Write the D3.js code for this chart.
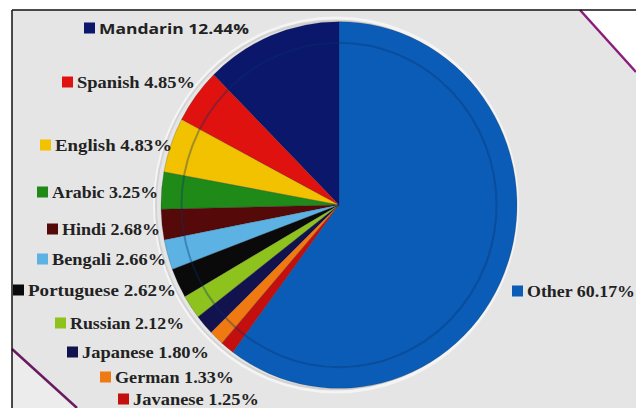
<!DOCTYPE html>
<html>
<head>
<meta charset="utf-8">
<script src="https://cdn.jsdelivr.net/npm/d3@7"></script>
<style>
  html, body { margin: 0; padding: 0; background: #ffffff; }
  svg { display: block; }
</style>
</head>
<body>
<svg id="chart" width="636" height="408"></svg>
<script>
// ---- data ----
const languages = ["Mandarin", "Spanish", "English", "Arabic", "Hindi", "Bengali",
                   "Portuguese", "Russian", "Japanese", "German", "Javanese", "Other"];
const shares = [12.44, 4.85, 4.83, 3.25, 2.68, 2.66, 2.62, 2.12, 1.80, 1.33, 1.25, 60.17];
const colors = ["#0b176a", "#e0120f", "#f2c100", "#1f8a18", "#560909", "#5cb2e3",
                "#0a0a0a", "#8ec21c", "#12124f", "#f07a12", "#c40f0f", "#0b5cb6"];

// ---- layout (label anchor: square left x, centre y, text right end) ----
const labelLayout = [
  {sx: 84,  cy: 28,  tEnd: 249, sans: true},
  {sx: 62,  cy: 82,  tEnd: 195},
  {sx: 40,  cy: 145, tEnd: 172},
  {sx: 37,  cy: 192, tEnd: 158},
  {sx: 47,  cy: 229, tEnd: 160},
  {sx: 37,  cy: 259, tEnd: 166},
  {sx: 13,  cy: 290, tEnd: 176},
  {sx: 55,  cy: 323, tEnd: 184},
  {sx: 67,  cy: 352, tEnd: 209},
  {sx: 100, cy: 377, tEnd: 234},
  {sx: 118, cy: 399, tEnd: 259},
  {sx: 512, cy: 291, tEnd: 635}
];

const data = languages.map((l, i) => ({lang: l, value: shares[i], color: colors[i], layout: labelLayout[i]}));

const svg = d3.select("#chart");
const W = 636, H = 408;

// frame background
svg.append("rect").attr("x", 0).attr("y", 0).attr("width", W).attr("height", H).attr("fill", "#ffffff");
svg.append("rect").attr("x", 12).attr("y", 10).attr("width", W - 12).attr("height", H - 10).attr("fill", "#e5e5e5");
// white corner beyond purple diagonal (top-right)
svg.append("path").attr("d", `M580,10 L636,10 L636,72 Z`).attr("fill", "#ffffff");
svg.append("line").attr("x1", 580).attr("y1", 10).attr("x2", 636).attr("y2", 72)
  .attr("stroke", "#8a1c7c").attr("stroke-width", 2.5);
svg.append("path").attr("d", `M12,349 L12,408 L77,408 Z`).attr("fill", "#ececec");
svg.append("line").attr("x1", 12).attr("y1", 349).attr("x2", 77).attr("y2", 408)
  .attr("stroke", "#6a1a60").attr("stroke-width", 2.5);
// frame lines
svg.append("line").attr("x1", 12).attr("y1", 10).attr("x2", W).attr("y2", 10).attr("stroke", "#111").attr("stroke-width", 1.5);
svg.append("line").attr("x1", 12).attr("y1", 10).attr("x2", 12).attr("y2", H).attr("stroke", "#111").attr("stroke-width", 1.5);

// ---- pie ----
const cx = 339, cy = 205, R = 178, yScale = 1.03;
const pie = d3.pie().value(d => d.value).sort(null).startAngle(0).endAngle(-2 * Math.PI);
const arc = d3.arc().innerRadius(0).outerRadius(R);

const g = svg.append("g").attr("transform", `translate(${cx},${cy}) scale(1,${yScale})`);

// soft halo on the left
g.append("circle").attr("cx", -3).attr("cy", 0).attr("r", R + 3)
  .attr("fill", "none").attr("stroke", "#f4f4f4").attr("stroke-width", 4);
g.append("circle").attr("cx", -4).attr("cy", 0).attr("r", R + 1)
  .attr("fill", "none").attr("stroke", "#c4c4c4").attr("stroke-width", 2).attr("opacity", 0.7);

g.selectAll("path.slice")
  .data(pie(data))
  .join("path")
  .attr("class", "slice")
  .attr("d", arc)
  .attr("fill", d => d.data.color)
  .attr("stroke", "#1a1a2a")
  .attr("stroke-width", 0.4)
  .attr("stroke-opacity", 0.5);

// subtle inner ring (3D bevel)
g.append("circle").attr("r", R * 0.885)
  .attr("fill", "none").attr("stroke", "#06306e").attr("stroke-width", 2).attr("opacity", 0.35);

// ---- labels ----
const lab = svg.append("g");
data.forEach(d => {
  const L = d.layout;
  lab.append("rect")
    .attr("x", L.sx).attr("y", L.cy - 5.5)
    .attr("width", 11).attr("height", 11)
    .attr("fill", d.color);
  const txt = `${d.lang} ${d.value.toFixed(2)}%`;
  const tx = L.sx + 15;
  lab.append("text")
    .attr("x", tx).attr("y", L.cy + 5.5)
    .attr("font-family", L.sans ? "'Open Sans', 'Liberation Sans', sans-serif" : "'Liberation Serif', 'DejaVu Serif', serif")
    .attr("font-weight", "bold")
    .attr("font-size", L.sans ? 15 : 16.5)
    .attr("fill", "#222222")
    .attr("textLength", L.tEnd - tx)
    .attr("lengthAdjust", "spacingAndGlyphs")
    .text(txt);
});
</script>
</body>
</html>
